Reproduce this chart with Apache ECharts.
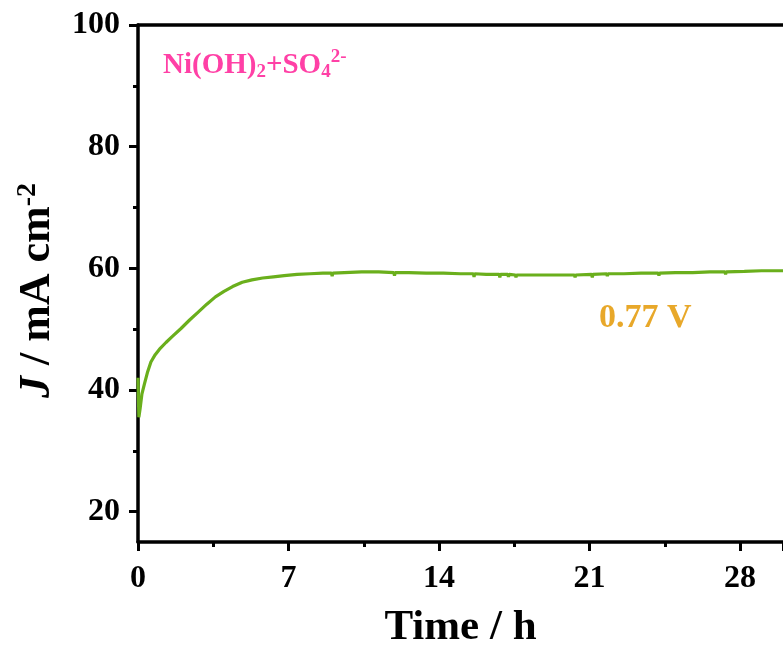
<!DOCTYPE html>
<html>
<head>
<meta charset="utf-8">
<script src="https://cdn.jsdelivr.net/npm/echarts@6/dist/echarts.min.js"></script>
<style>html,body{margin:0;padding:0;background:#fff}#c{width:783px;height:654px}</style>
</head>
<body>
<div id="c"></div>
<script>
// Time (h)
const timeH = [0, 0.04, 0.1, 0.18, 0.3, 0.45, 0.6, 0.8, 1.0, 1.3, 1.6, 2.0, 2.4, 2.8, 3.2, 3.6, 4.0, 4.4, 4.85, 5.3, 5.8, 6.3, 6.8, 7.4, 8.0, 8.6,
  9.0, 9.03, 9.06, 9.6, 10.4, 11.2, 11.9, 11.93, 11.96, 12.6, 13.4, 14.2, 15.0, 15.6, 15.63, 15.66, 16.2,
  16.8, 16.83, 16.86, 17.2, 17.23, 17.26, 17.55, 17.58, 17.61, 17.9, 17.93, 17.96, 18.6, 19.4,
  20.3, 20.33, 20.36, 21.1, 21.13, 21.16, 21.8, 21.83, 21.86, 22.6, 23.4, 24.2, 24.23, 24.26,
  25.0, 25.8, 26.6, 27.3, 27.33, 27.36, 28.2, 29.0, 29.8, 30.0];
// Current density J (mA cm^-2)
const currentJ = [42.0, 35.5, 37.0, 39.3, 41.0, 43.0, 44.6, 45.8, 46.7, 47.8, 48.8, 50.1, 51.5, 52.8, 54.1, 55.3, 56.2, 57.0, 57.7, 58.1, 58.4, 58.6, 58.8, 59.0, 59.1, 59.2,
  59.2, 58.7, 59.2, 59.3, 59.4, 59.4, 59.3, 58.8, 59.3, 59.3, 59.2, 59.2, 59.1, 59.1, 58.6, 59.1, 59.0,
  59.0, 58.5, 59.0, 59.0, 58.6, 59.0, 58.9, 58.5, 58.9, 58.9, 58.6, 58.9, 58.9, 58.9,
  58.9, 58.5, 58.9, 59.0, 58.5, 59.0, 59.1, 58.7, 59.1, 59.1, 59.2, 59.2, 58.8, 59.2,
  59.3, 59.3, 59.4, 59.4, 59.0, 59.4, 59.5, 59.6, 59.6, 59.6];
const yMajorTicks = [20, 40, 60, 80, 100];
const yMinorTicks = [30, 50, 70, 90];
const annotationPotential = '0.77 V';

const data = timeH.map((t, i) => [t, currentJ[i]]);
const font = '"Liberation Serif", "Times New Roman", serif';
const chart = echarts.init(document.getElementById('c'), null, {renderer: 'canvas'});
chart.setOption({
  animation: false,
  backgroundColor: '#fff',
  grid: {left: 138, right: -5, top: 25, bottom: 106, containLabel: false},
  xAxis: [{
    type: 'value', min: 0, max: 30, interval: 7,
    name: 'Time / h', nameLocation: 'middle', nameGap: 64,
    nameTextStyle: {fontFamily: font, fontWeight: 'bold', fontSize: 43, color: '#000'},
    axisLine: {lineStyle: {color: '#000', width: 3.5}},
    axisTick: {length: 9, lineStyle: {color: '#000', width: 3}},
    minorTick: {show: true, splitNumber: 2, length: 5, lineStyle: {color: '#000', width: 3}},
    axisLabel: {fontFamily: font, fontWeight: 'bold', fontSize: 32, color: '#000', margin: 21, showMaxLabel: false},
    splitLine: {show: false}
  }, {
    type: 'value', position: 'top', min: 0, max: 30,
    axisLine: {show: true, lineStyle: {color: '#000', width: 3.5}},
    axisTick: {show: false}, axisLabel: {show: false}, splitLine: {show: false}
  }],
  yAxis: [{
    type: 'value', min: 15, max: 100,
    name: '{i|J} / mA cm{sup|-2}', nameLocation: 'middle', nameGap: 76, nameRotate: 90,
    nameTextStyle: {fontFamily: font, fontWeight: 'bold', fontSize: 44, color: '#000', padding: [0, 14, 0, 0],
      rich: {
        i: {fontFamily: font, fontWeight: 'bold', fontStyle: 'italic', fontSize: 44, color: '#000'},
        sup: {fontFamily: font, fontWeight: 'bold', fontSize: 28, color: '#000', verticalAlign: 'top', padding: [0, 0, 20, 0]}
      }},
    axisLine: {show: true, lineStyle: {color: '#000', width: 3.5}},
    axisTick: {show: true, length: 9, customValues: yMajorTicks, lineStyle: {color: '#000', width: 3}},
    axisLabel: {fontFamily: font, fontWeight: 'bold', fontSize: 32, color: '#000', margin: 18, customValues: yMajorTicks},
    splitLine: {show: false}
  }, {
    type: 'value', min: 15, max: 100, position: 'left',
    axisLine: {show: false},
    axisTick: {show: true, length: 5, customValues: yMinorTicks, lineStyle: {color: '#000', width: 3}},
    axisLabel: {show: false, customValues: yMinorTicks},
    splitLine: {show: false}
  }],
  series: [{
    type: 'line', data: data, showSymbol: false, symbol: 'none',
    lineStyle: {color: '#6AAF1C', width: 3.2}, clip: true
  }],
  graphic: [{
    type: 'text', left: 163, top: 48,
    style: {
      text: '{m|Ni(OH)}{s|2}{m|+SO}{s|4}{p|2-}',
      rich: {
        m: {fontFamily: font, fontWeight: 'bold', fontSize: 29, fill: '#FF40A6'},
        s: {fontFamily: font, fontWeight: 'bold', fontSize: 19, fill: '#FF40A6', padding: [14, 0, 0, 0]},
        p: {fontFamily: font, fontWeight: 'bold', fontSize: 19, fill: '#FF40A6', padding: [0, 0, 16, 0]}
      }
    }
  }, {
    type: 'text', left: 599, top: 301,
    style: {text: annotationPotential, fontFamily: font, fontWeight: 'bold', fontSize: 34, fill: '#E8A82A'}
  }]
});
</script>
</body>
</html>
